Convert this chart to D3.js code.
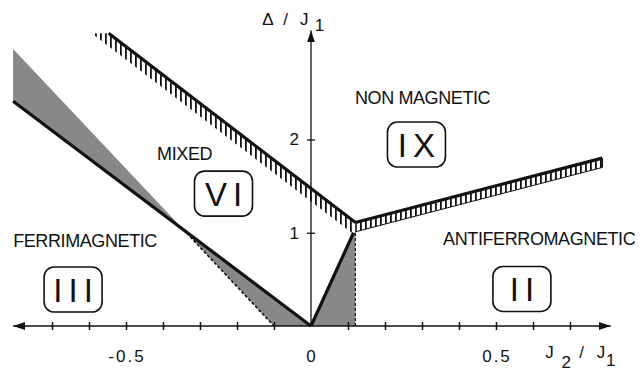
<!DOCTYPE html>
<html>
<head>
<meta charset="utf-8">
<script src="https://cdn.jsdelivr.net/npm/d3@7"></script>
<style>
  html, body { margin: 0; padding: 0; background: #fff; }
  svg text { font-family: "Liberation Sans", Arial, Helvetica, sans-serif; fill: #111; }
</style>
</head>
<body>
<div id="chart"></div>
<script>
// Diagramme de phase : Delta/J1 en fonction de J2/J1

// graduations
const xTicks = [-0.7, -0.6, -0.5, -0.4, -0.3, -0.2, -0.1, 0.1, 0.2, 0.3, 0.4, 0.5, 0.6, 0.7];
const xLabels = [{ v: -0.5, t: "-0.5" }, { v: 0, t: "0" }, { v: 0.5, t: "0.5" }];
const yTicks = [1, 2];

// frontières (J2/J1, Delta/J1)
const ferriLine = [[-0.805, 2.41], [0, 0]];
const greyEdge = [[-0.805, 2.97], [-0.345, 1.035], [-0.1, 0]];
const mixedLine = [[-0.547, 3.14], [0.12, 1.11]];
const afmLine = [[0.12, 1.11], [0.787, 1.80]];
const centreLine = [[0, 0], [0.115, 1.0]];
const centreDash = [[0.12, 0], [0.12, 1.0]];
const bandTop = 3.14;
const mixedBand = 0.14;
const afmBand = 0.1;

// noms des phases
const phaseNames = [
  { t: "NON MAGNETIC", j: 0.119, d: 2.38 },
  { t: "MIXED", j: -0.416, d: 1.78 },
  { t: "FERRIMAGNETIC", j: -0.805, d: 0.847 },
  { t: "ANTIFERROMAGNETIC", j: 0.357, d: 0.869 }
];
const phaseBoxes = [
  { t: "IX", j: 0.285, d: 1.946 },
  { t: "VI", j: -0.2365, d: 1.42 },
  { t: "III", j: -0.643, d: 0.391 },
  { t: "II", j: 0.570, d: 0.397 }
];

//---------------------------------------------------------------------------------------

const width = 641, height = 373;

const svg = d3.select("#chart")
  .append("svg")
  .attr("width", width)
  .attr("height", height)
  .attr("viewBox", [0, 0, width, height]);

const x = d3.scaleLinear().domain([-0.5, 0.5]).range([126, 496]);
const y = d3.scaleLinear().domain([0, 2]).range([326, 139.5]);

const line = d3.line().x(d => x(d[0])).y(d => y(d[1]));

const defs = svg.append("defs");

// flèches
defs.append("marker")
  .attr("id", "arrow")
  .attr("viewBox", "0 0 12 8")
  .attr("refX", 12).attr("refY", 4)
  .attr("markerWidth", 12).attr("markerHeight", 8)
  .attr("markerUnits", "userSpaceOnUse")
  .attr("orient", "auto-start-reverse")
  .append("path")
  .attr("d", "M0,0L12,4L0,8Z")
  .attr("fill", "#111");

// hachures verticales
defs.append("pattern")
  .attr("id", "hatch")
  .attr("patternUnits", "userSpaceOnUse")
  .attr("width", 5).attr("height", 20)
  .append("rect")
  .attr("x", 0).attr("y", 0)
  .attr("width", 1.8).attr("height", 20)
  .attr("fill", "#111");

//---------------------------------------------------------------------------------------

// zones grisées
const grey = "#888888";
const cross = greyEdge[1];

svg.append("path")
  .attr("d", line([greyEdge[0], ferriLine[0], cross]) + "Z")
  .attr("fill", grey);
svg.append("path")
  .attr("d", line([cross, ferriLine[1], greyEdge[2]]) + "Z")
  .attr("fill", grey);
svg.append("path")
  .attr("d", line([centreLine[0], centreLine[1], centreDash[1], centreDash[0]]) + "Z")
  .attr("fill", grey);

// bande hachurée MIXED / NON MAGNETIC
const slopeM = (mixedLine[1][1] - mixedLine[0][1]) / (mixedLine[1][0] - mixedLine[0][0]);
const jLow = mixedLine[1][0] + (bandTop - (mixedLine[1][1] - mixedBand)) / slopeM;
svg.append("path")
  .attr("d", line([mixedLine[0], mixedLine[1], [mixedLine[1][0], mixedLine[1][1] - mixedBand], [jLow, bandTop]]) + "Z")
  .attr("fill", "url(#hatch)");

// bande hachurée NON MAGNETIC / ANTIFERRO
const afmLow = afmLine.map(d => [d[0], d[1] - afmBand]);
svg.append("path")
  .attr("d", line([afmLine[0], afmLine[1], afmLow[1], afmLow[0]]) + "Z")
  .attr("fill", "url(#hatch)");
svg.append("path")
  .attr("d", line(afmLow))
  .attr("fill", "none").attr("stroke", "#111").attr("stroke-width", 1);
svg.append("path")
  .attr("d", line([afmLine[1], afmLow[1]]))
  .attr("fill", "none").attr("stroke", "#111").attr("stroke-width", 1.7);

// limites en pointillés
svg.append("path")
  .attr("d", line([cross, greyEdge[2]]))
  .attr("fill", "none").attr("stroke", "#111")
  .attr("stroke-width", 1.6).attr("stroke-dasharray", "3,2");
svg.append("path")
  .attr("d", line(centreDash))
  .attr("fill", "none").attr("stroke", "#111")
  .attr("stroke-width", 1.2).attr("stroke-dasharray", "3,2");

// limites épaisses
[ferriLine, mixedLine, afmLine, centreLine].forEach(l => {
  svg.append("path")
    .attr("d", line(l))
    .attr("fill", "none")
    .attr("stroke", "#111")
    .attr("stroke-width", 3.2)
    .attr("stroke-linejoin", "miter");
});

//---------------------------------------------------------------------------------------

// axes
svg.append("line")
  .attr("x1", x(-0.805)).attr("x2", x(0.81))
  .attr("y1", y(0)).attr("y2", y(0))
  .attr("stroke", "#111").attr("stroke-width", 1.5)
  .attr("marker-start", "url(#arrow)")
  .attr("marker-end", "url(#arrow)");

svg.append("line")
  .attr("x1", x(0)).attr("x2", x(0))
  .attr("y1", y(0)).attr("y2", y(3.17))
  .attr("stroke", "#111").attr("stroke-width", 1.3)
  .attr("marker-end", "url(#arrow)");

const gx = svg.append("g")
  .attr("transform", `translate(0,${y(0)})`)
  .call(d3.axisBottom(x).tickValues(xTicks).tickSize(8).tickFormat(""));
gx.select(".domain").remove();
gx.selectAll(".tick line")
  .attr("y1", -4).attr("y2", 4)
  .attr("stroke", "#111").attr("stroke-width", 1.5);

const gy = svg.append("g")
  .attr("transform", `translate(${x(0)},0)`)
  .call(d3.axisLeft(y).tickValues(yTicks).tickSize(8).tickPadding(4).tickFormat(d3.format("d")));
gy.select(".domain").remove();
gy.selectAll(".tick line")
  .attr("x1", -4).attr("x2", 4)
  .attr("stroke", "#111").attr("stroke-width", 1.3);
gy.selectAll(".tick text")
  .attr("font-size", 17)
  .style("font-family", "'Liberation Sans', Arial, sans-serif")
  .attr("fill", "#111");

svg.selectAll(".xlab")
  .data(xLabels)
  .join("text")
  .attr("class", "xlab")
  .attr("x", d => x(d.v) + 1)
  .attr("y", y(0) + 36)
  .attr("text-anchor", "middle")
  .attr("font-size", 17)
  .attr("letter-spacing", 2)
  .text(d => d.t);

// titres des axes
const yTitle = svg.append("text")
  .attr("x", x(-0.132))
  .attr("y", 25)
  .attr("font-size", 17);
yTitle.append("tspan").text("Δ");
yTitle.append("tspan").attr("x", x(-0.075)).text("/");
yTitle.append("tspan").attr("x", x(-0.03)).text("J");
yTitle.append("tspan").attr("x", x(0.01)).attr("dy", 6).text("1");

const xTitle = svg.append("text")
  .attr("x", x(0.633))
  .attr("y", 358)
  .attr("font-size", 17);
xTitle.append("tspan").text("J");
xTitle.append("tspan").attr("x", x(0.677)).attr("dy", 10).text("2");
xTitle.append("tspan").attr("x", x(0.725)).attr("dy", -10).text("/");
xTitle.append("tspan").attr("x", x(0.772)).text("J");
xTitle.append("tspan").attr("x", x(0.797)).attr("dy", 8).text("1");

//---------------------------------------------------------------------------------------

// noms des phases
svg.selectAll(".phase")
  .data(phaseNames)
  .join("text")
  .attr("class", "phase")
  .attr("x", d => x(d.j))
  .attr("y", d => y(d.d))
  .attr("font-size", 18)
  .attr("letter-spacing", -0.4)
  .text(d => d.t);

// cadres des numéros
const boxW = 58, boxH = 45;
const boxes = svg.selectAll(".box")
  .data(phaseBoxes)
  .join("g")
  .attr("class", "box")
  .attr("transform", d => `translate(${x(d.j)},${y(d.d)})`);

boxes.append("rect")
  .attr("x", -boxW / 2).attr("y", -boxH / 2)
  .attr("width", boxW).attr("height", boxH)
  .attr("rx", 10)
  .attr("fill", "none")
  .attr("stroke", "#111")
  .attr("stroke-width", 1.6);

boxes.append("text")
  .attr("text-anchor", "middle")
  .attr("dx", 3)
  .attr("y", 12)
  .attr("font-size", 33)
  .attr("letter-spacing", 6)
  .style("font-weight", 300)
  .text(d => d.t);
</script>
</body>
</html>
